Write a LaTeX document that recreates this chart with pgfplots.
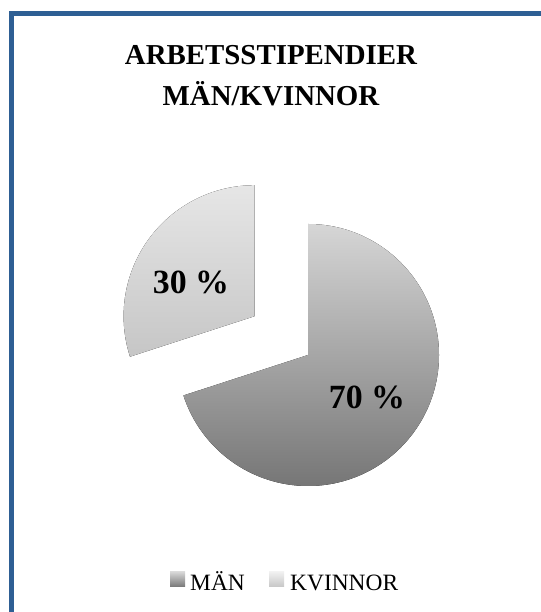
\documentclass[border=0pt]{standalone}
\usepackage{pgfplots}
\pgfplotsset{compat=1.18}
\usepackage{pgfplotstable}
\usepackage{fontspec}
\setmainfont{Liberation Serif}
\usetikzlibrary{shadings,calc}

% share of work grants, percent
\pgfplotstableread{
group   value
MAN     70
KVINNOR 30
}\piedata

\definecolor{frameblue}{RGB}{46,95,148}
\definecolor{manTop}{RGB}{214,214,214}
\definecolor{manBot}{RGB}{118,118,118}
\definecolor{kvTop}{RGB}{230,230,230}
\definecolor{kvBot}{RGB}{198,198,198}

\begin{document}
\begin{tikzpicture}
\pgfplotstablegetelem{0}{value}\of\piedata \let\vman\pgfplotsretval
\pgfplotstablegetelem{1}{value}\of\piedata \let\vkv\pgfplotsretval
\pgfmathsetmacro{\aend}{90-3.6*\vman}      % men: clockwise from top
\pgfmathsetmacro{\akv}{90+3.6*\vkv}        % women: counter-clockwise from top
\pgfmathsetmacro{\amid}{90+1.8*\vkv}
\begin{axis}[
  hide axis, scale only axis,
  width=541bp, height=612bp,
  xmin=0, xmax=541, ymin=0, ymax=612,
  clip=false,
]
% frame (left and top edges visible)
\draw[frameblue, line width=5bp] (axis cs:11.5,-20) -- (axis cs:11.5,598) -- (axis cs:560,598);

% title
\node[anchor=base, font=\bfseries\fontsize{29}{30}\selectfont] at (axis cs:271,547) {ARBETSSTIPENDIER};
\node[anchor=base, font=\bfseries\fontsize{29}{30}\selectfont] at (axis cs:271,506) {MÄN/KVINNOR};

% slices
\fill[top color=manTop, bottom color=manBot]
  (axis cs:308,257) -- ++(90:131bp) arc[start angle=90, end angle=\aend, radius=131bp] -- cycle;
\fill[top color=kvTop, bottom color=kvBot]
  ($(axis cs:308,257)+(\amid:66bp)$) -- ++(90:131bp) arc[start angle=90, end angle=\akv, radius=131bp] -- cycle;

% labels
\node[font=\bfseries\fontsize{34}{36}\selectfont] at (axis cs:367,215) {\vman~\%};
\node[font=\bfseries\fontsize{34}{36}\selectfont] at (axis cs:191,330) {\vkv~\%};

% legend
\fill[top color=manTop, bottom color=manBot] (axis cs:170,25) rectangle (axis cs:185,40);
\node[anchor=base west, inner sep=0pt, font=\fontsize{23.5}{25}\selectfont] at (axis cs:190,22) {MÄN};
\fill[top color=kvTop!60!white, bottom color=kvBot] (axis cs:269,25) rectangle (axis cs:284,40);
\node[anchor=base west, inner sep=0pt, font=\fontsize{23.5}{25}\selectfont] at (axis cs:290,22) {KVINNOR};
\end{axis}
\pgfresetboundingbox
\useasboundingbox (0,0) rectangle (541bp,612bp);
\end{tikzpicture}
\end{document}
